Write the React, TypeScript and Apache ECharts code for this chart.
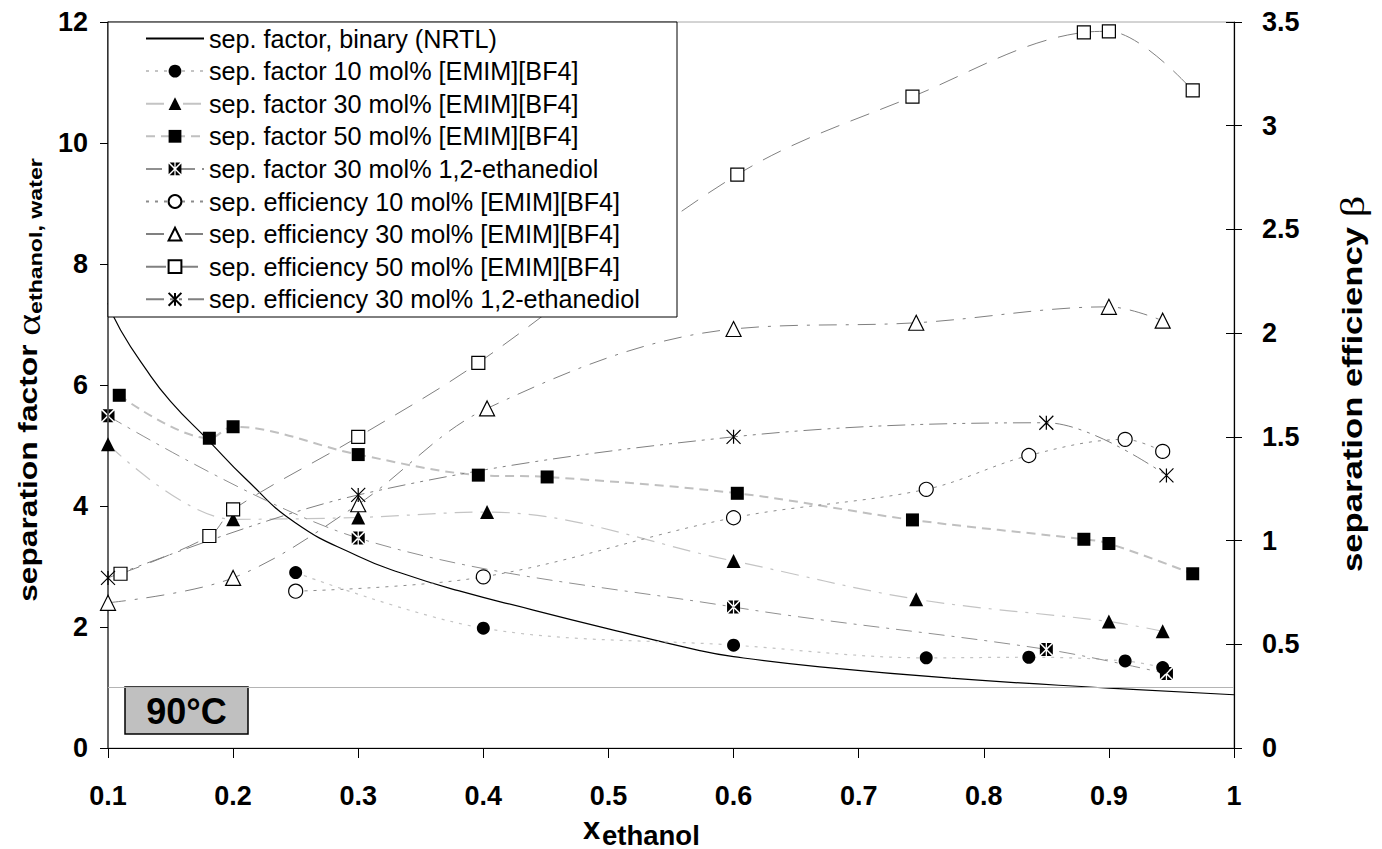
import React, { useEffect, useRef } from "react";
import * as echarts from "echarts";

// ---------- data ----------
const nrtlX = [0.1, 0.11, 0.13, 0.15, 0.18, 0.21, 0.25, 0.3, 0.333, 0.38, 0.44, 0.5, 0.573, 0.6, 0.669, 0.776, 0.9, 1.0];
const nrtlY = [7.35, 6.91, 6.27, 5.73, 5.09, 4.45, 3.72, 3.17, 2.9, 2.6, 2.28, 1.97, 1.61, 1.51, 1.34, 1.15, 0.99, 0.88];

const f10X = [0.25, 0.4, 0.6, 0.754, 0.836, 0.913, 0.943];
const f10Y = [2.9, 1.98, 1.7, 1.49, 1.5, 1.44, 1.33];

const f30X = [0.1, 0.2, 0.3, 0.403, 0.6, 0.746, 0.9, 0.943];
const f30Y = [5.02, 3.78, 3.81, 3.9, 3.09, 2.46, 2.09, 1.93];

const f50X = [0.109, 0.181, 0.2, 0.3, 0.396, 0.451, 0.603, 0.743, 0.88, 0.9, 0.967];
const f50Y = [5.83, 5.12, 5.31, 4.85, 4.51, 4.48, 4.21, 3.77, 3.45, 3.38, 2.88];

const fEdX = [0.1, 0.3, 0.6, 0.85, 0.946];
const fEdY = [5.49, 3.47, 2.33, 1.63, 1.23];

const e10X = [0.25, 0.4, 0.6, 0.754, 0.836, 0.913, 0.943];
const e10Y = [0.756, 0.825, 1.11, 1.247, 1.41, 1.488, 1.43];

const e30X = [0.1, 0.2, 0.3, 0.403, 0.6, 0.746, 0.9, 0.943];
const e30Y = [0.7, 0.82, 1.175, 1.637, 2.02, 2.05, 2.127, 2.06];

const e50X = [0.11, 0.181, 0.2, 0.3, 0.396, 0.603, 0.743, 0.88, 0.9, 0.967];
const e50Y = [0.84, 1.022, 1.15, 1.5, 1.857, 2.764, 3.14, 3.45, 3.455, 3.17];

const eEdX = [0.1, 0.3, 0.6, 0.85, 0.946];
const eEdY = [0.82, 1.22, 1.5, 1.568, 1.314];

const names = [
  "sep. factor, binary (NRTL)",
  "sep. factor 10 mol% [EMIM][BF4]",
  "sep. factor 30 mol% [EMIM][BF4]",
  "sep. factor 50 mol% [EMIM][BF4]",
  "sep. factor 30 mol% 1,2-ethanediol",
  "sep. efficiency 10 mol% [EMIM][BF4]",
  "sep. efficiency 30 mol% [EMIM][BF4]",
  "sep. efficiency 50 mol% [EMIM][BF4]",
  "sep. efficiency 30 mol% 1,2-ethanediol",
];

const pairs = (xs: number[], ys: number[]) => xs.map((x, i) => [x, ys[i]]);

const crossSquare =
  "path://M1 0L5.4 0L5.4 4.4ZM6.6 0L11 0L6.6 4.4ZM1 12L5.4 12L5.4 7.6ZM6.6 12L11 12L6.6 7.6ZM0 1L0 11L5 6ZM12 1L12 11L7 6Z";
const asterisk = "path://M0 0L12 12M12 0L0 12M6 0L6 12";

const FONT = "Liberation Sans";

export default function App() {
  const ref = useRef<HTMLDivElement>(null);

  useEffect(() => {
    if (!ref.current) return;
    const chart = echarts.init(ref.current, null, { renderer: "svg" });

    const filled = { color: "#000" };
    const open = { color: "#fff", borderColor: "#000", borderWidth: 1.2 };

    const mk = (
      name: string,
      xs: number[],
      ys: number[],
      yAxisIndex: number,
      symbol: string,
      symbolSize: number,
      itemStyle: any,
      lineStyle: any
    ) => ({
      name,
      type: "line",
      yAxisIndex,
      data: pairs(xs, ys),
      smooth: 0.35,
      symbol,
      symbolSize,
      itemStyle,
      lineStyle,
      z: 2,
    });

    const option: any = {
      animation: false,
      backgroundColor: "#fff",
      grid: { left: 108, right: 148, top: 22, bottom: 101, show: true, borderColor: "#a8a8a8", borderWidth: 1 },
      xAxis: {
        type: "value",
        min: 0.1,
        max: 1,
        interval: 0.1,
        axisLine: { show: true, onZero: false, lineStyle: { color: "#000", width: 1.2 } },
        axisTick: { show: true, inside: false, length: 10, lineStyle: { color: "#000" } },
        axisLabel: {
          fontFamily: FONT,
          fontWeight: "bold",
          fontSize: 27,
          color: "#000",
          margin: 34,
          formatter: (v: number) => (Math.abs(v - 1) < 1e-9 ? "1" : v.toFixed(1)),
        },
        splitLine: { show: false },
      },
      yAxis: [
        {
          type: "value",
          min: 0,
          max: 12,
          interval: 2,
          position: "left",
          axisLine: { show: true, lineStyle: { color: "#404040", width: 1.5 } },
          axisTick: { show: true, inside: false, length: 8, lineStyle: { color: "#000" } },
          axisLabel: { fontFamily: FONT, fontWeight: "bold", fontSize: 27, color: "#000", margin: 20 },
          splitLine: { show: false },
        },
        {
          type: "value",
          min: 0,
          max: 3.5,
          interval: 0.5,
          position: "right",
          axisLine: { show: true, lineStyle: { color: "#000", width: 1.2 } },
          axisTick: { show: true, inside: false, length: 8, lineStyle: { color: "#000" } },
          axisLabel: { fontFamily: FONT, fontWeight: "bold", fontSize: 27, color: "#000", margin: 28 },
          splitLine: { show: false },
        },
        {
          type: "value",
          min: 0,
          max: 3.5,
          interval: 0.5,
          position: "right",
          axisLine: { show: false },
          axisTick: { show: true, inside: true, length: 8, lineStyle: { color: "#000" } },
          axisLabel: { show: false },
          splitLine: { show: false },
        },
      ],
      legend: {
        orient: "vertical",
        left: 145,
        top: 26,
        padding: 0,
        itemWidth: 58,
        itemHeight: 16,
        itemGap: 7.6,
        itemTextGap: 7,
        selectedMode: false,
        z: 4,
        textStyle: { fontFamily: FONT, fontSize: 25.2, color: "#000" },
        data: names,
      },
      graphic: [
        {
          type: "rect",
          z: 3,
          shape: { x: 108, y: 22, width: 569, height: 295 },
          style: { fill: "#fff", stroke: "#000", lineWidth: 1 },
        },
        {
          type: "rect",
          z: 3,
          shape: { x: 125, y: 687, width: 123, height: 47 },
          style: { fill: "#c0c0c0", stroke: "#000", lineWidth: 1.5 },
        },
        {
          type: "text",
          z: 4,
          x: 186.5,
          y: 711,
          style: {
            text: "90°C",
            fontFamily: FONT,
            fontWeight: "bold",
            fontSize: 36,
            fill: "#000",
            align: "center",
            verticalAlign: "middle",
          },
        },
        {
          type: "text",
          z: 4,
          x: 28,
          y: 380,
          rotation: Math.PI / 2,
          scaleX: 1.22,
          style: {
            text: "{a|separation factor }{g|α}{s|ethanol, water}",
            align: "center",
            verticalAlign: "middle",
            rich: {
              a: { fontFamily: FONT, fontWeight: "bold", fontSize: 26, fill: "#000", lineHeight: 34 },
              g: { fontFamily: "Liberation Serif", fontSize: 34, fill: "#000", lineHeight: 34 },
              s: { fontFamily: FONT, fontWeight: "bold", fontSize: 19, fill: "#000", lineHeight: 20, verticalAlign: "bottom" },
            },
          },
        },
        {
          type: "text",
          z: 4,
          x: 1352,
          y: 384,
          rotation: Math.PI / 2,
          scaleX: 1.24,
          style: {
            text: "{a|separation efficiency }{g|β}",
            align: "center",
            verticalAlign: "middle",
            rich: {
              a: { fontFamily: FONT, fontWeight: "bold", fontSize: 28, fill: "#000", lineHeight: 34 },
              g: { fontFamily: "Liberation Serif", fontSize: 34, fill: "#000", lineHeight: 34 },
            },
          },
        },
        {
          type: "text",
          z: 4,
          x: 583,
          y: 844,
          style: {
            text: "x",
            fontFamily: FONT,
            fontWeight: "bold",
            fontSize: 31,
            fill: "#000",
            align: "left",
            verticalAlign: "bottom",
          },
        },
        {
          type: "text",
          z: 4,
          x: 602,
          y: 849,
          style: {
            text: "ethanol",
            fontFamily: FONT,
            fontWeight: "bold",
            fontSize: 27.5,
            fill: "#000",
            align: "left",
            verticalAlign: "bottom",
          },
        },
      ],
      series: [
        {
          name: names[0],
          type: "line",
          yAxisIndex: 0,
          data: pairs(nrtlX, nrtlY),
          smooth: true,
          symbol: "circle",
          showSymbol: false,
          itemStyle: { color: "rgba(0,0,0,0)", borderColor: "rgba(0,0,0,0)", borderWidth: 0 },
          lineStyle: { color: "#000", width: 1.2, type: "solid" },
          markLine: {
            silent: true,
            symbol: ["none", "none"],
            label: { show: false },
            lineStyle: { color: "#b4b4b4", type: "solid", width: 1.2 },
            data: [{ yAxis: 1 }],
          },
          z: 2,
        },
        mk(names[1], f10X, f10Y, 0, "circle", 13, filled, { color: "#c4c4c4", width: 1.2, type: [3, 6] }),
        mk(names[2], f30X, f30Y, 0, "triangle", 14, filled, { color: "#c4c4c4", width: 1.2, type: [18, 8, 3, 8] }),
        mk(names[3], f50X, f50Y, 0, "rect", 13, filled, { color: "#c0c0c0", width: 2, type: [9, 6] }),
        mk(names[4], fEdX, fEdY, 0, crossSquare, 13, filled, { color: "#909090", width: 1, type: [16, 7, 3, 7] }),
        mk(names[5], e10X, e10Y, 1, "circle", 14, open, { color: "#8c8c8c", width: 1, type: [3, 6] }),
        mk(names[6], e30X, e30Y, 1, "triangle", 15, open, { color: "#808080", width: 1, type: [18, 9, 3, 9] }),
        mk(names[7], e50X, e50Y, 1, "rect", 13, open, { color: "#808080", width: 1, type: [20, 12] }),
        mk(names[8], eEdX, eEdY, 1, asterisk, 14, { color: "#000", borderColor: "#000", borderWidth: 1.2 }, {
          color: "#808080",
          width: 1,
          type: [18, 6, 3, 6, 3, 6],
        }),
      ],
    };

    chart.setOption(option);
    return () => chart.dispose();
  }, []);

  return (
    <div
      ref={ref}
      style={{ position: "fixed", left: 0, top: 0, width: 1382, height: 849, background: "#fff" }}
    />
  );
}
